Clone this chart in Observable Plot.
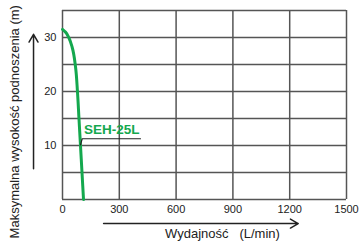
<!DOCTYPE html>
<html><head><meta charset="utf-8">
<script src="https://cdn.jsdelivr.net/npm/d3@7"></script>
<script src="https://cdn.jsdelivr.net/npm/@observablehq/plot@0.6"></script>
<style>body{margin:0;background:#fff}</style>
</head><body><div id="chart"></div>
<script>
const xTicks = [0, 300, 600, 900, 1200, 1500];
const yGrid = [0, 5, 10, 15, 20, 25, 30, 35];
const yTicks = [10, 20, 30];
const flow = [0, 16, 33, 51, 69, 79, 87, 95, 103, 111];
const head = [31.5, 31, 30, 28.2, 24.5, 20, 15, 10, 5, 0];
const seriesName = "SEH-25L";
const xLabel = "Wydajność   (L/min)";
const yLabel = "Maksymalna wysokość podnoszenia (m)";

const curve = flow.map((f, i) => ({x: f, y: head[i]}));
const leader = [{x: 95, y: 10.1}, {x: 104, y: 11.25}, {x: 412, y: 11.25}];
const arrows = [
  {x1: 217, y1: -4.45, x2: 1245, y2: -4.45},
  {x1: -153, y1: 5.7, x2: -153, y2: 30.6}
];

const chart = Plot.plot({
  width: 360, height: 241,
  marginLeft: 62, marginRight: 14, marginTop: 10, marginBottom: 42,
  style: {fontFamily: "Liberation Sans, Arial, sans-serif", fontSize: "11px", color: "#222", background: "#fff"},
  x: {domain: [0, 1500], ticks: xTicks},
  y: {domain: [0, 35], ticks: yTicks},
  marks: [
    Plot.ruleX(xTicks, {stroke: "#555", strokeWidth: 1.5}),
    Plot.ruleY(yGrid, {stroke: "#555", strokeWidth: 1.5}),
    Plot.axisX({ticks: xTicks, tickFormat: d => String(d), tickSize: 0, tickPadding: 6, label: null, fontSize: 11}),
    Plot.axisY({ticks: yTicks, tickFormat: d => String(d), tickSize: 0, tickPadding: 6, label: null, fontSize: 11}),
    Plot.line(curve, {x: "x", y: "y", stroke: "#14a84e", strokeWidth: 3, curve: "monotone-y"}),
    Plot.line(leader, {x: "x", y: "y", stroke: "#222", strokeWidth: 1.2}),
    Plot.text([seriesName], {x: 260, y: 12.9, text: d => d, fill: "#14a84e", fontWeight: "bold", fontSize: 13.5}),
    Plot.arrow(arrows, {x1: "x1", y1: "y1", x2: "x2", y2: "y2", stroke: "#222", strokeWidth: 1.5, headLength: 9, clip: false}),
    Plot.text([xLabel], {x: 845, y: -6.4, text: d => d, fontSize: 13, clip: false, fill: "#222"}),
    Plot.text([yLabel], {x: -250, y: 14.4, text: d => d, rotate: -90, fontSize: 13, clip: false, fill: "#222"})
  ]
});
document.getElementById("chart").append(chart);
</script></body></html>
